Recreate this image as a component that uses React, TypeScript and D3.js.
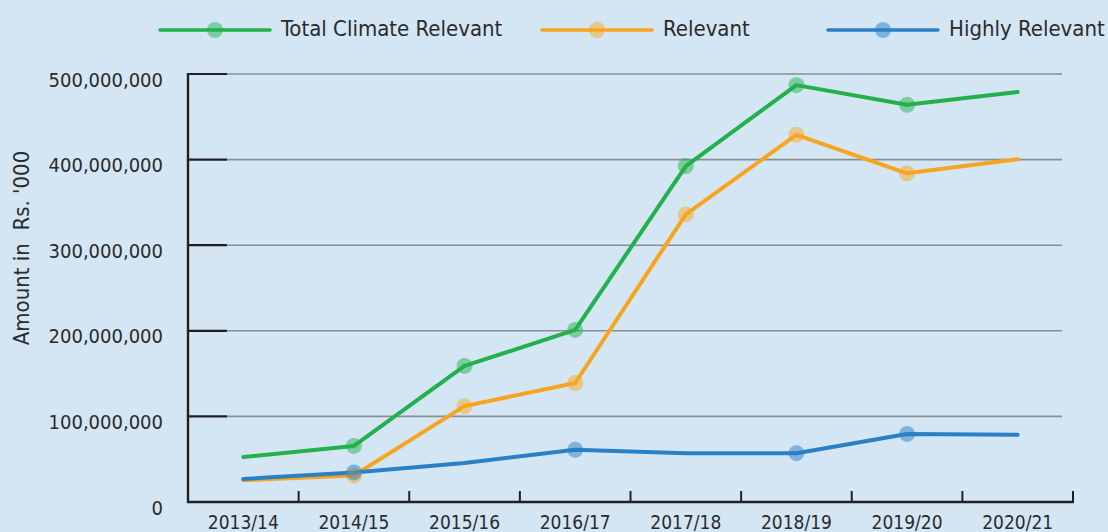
import React from "react";
import * as d3 from "d3";

const years = ["2013/14", "2014/15", "2015/16", "2016/17", "2017/18", "2018/19", "2019/20", "2020/21"];
const totalClimate = [52.5e6, 65.5e6, 159e6, 201e6, 392.5e6, 487e6, 464e6, 479e6];
const relevant = [25.5e6, 31e6, 112e6, 139e6, 336e6, 429e6, 384e6, 400.5e6];
const highlyRelevant = [27e6, 34.5e6, 45.5e6, 61e6, 57e6, 57e6, 79.5e6, 78.5e6];
const totalMarkers = [false, true, true, true, true, true, true, false];
const relevantMarkers = [false, true, true, true, true, true, true, false];
const highlyMarkers = [false, true, false, true, false, true, true, false];
const yTicks = [0, 100e6, 200e6, 300e6, 400e6, 500e6];
const seriesNames = ["Total Climate Relevant", "Relevant", "Highly Relevant"];
const seriesColors = ["#22b14c", "#f7a520", "#2a80c6"];

const W = 1108;
const H = 532;
const FONT = "'Liberation Sans Narrow', 'DejaVu Sans Condensed', Roboto, sans-serif";

export default function App() {
  const x0 = 188, x1 = 1073, yTop = 74, yBase = 502;
  const x = d3.scaleBand().domain(years).range([x0, x1]);
  const y = d3.scaleLinear().domain([0, 500e6]).range([yBase, yTop]);
  const cx = (yr: string) => (x(yr) as number) + x.bandwidth() / 2;
  const line = d3.line<number>().x((_, i) => cx(years[i])).y((v) => y(v));
  const series = [
    { vals: totalClimate, marks: totalMarkers },
    { vals: relevant, marks: relevantMarkers },
    { vals: highlyRelevant, marks: highlyMarkers },
  ];
  const legendX = [160, 542, 828];
  const boundaries = years.map((yr) => (x(yr) as number) + x.bandwidth());

  return (
    <svg width={W} height={H} style={{ position: "absolute", left: 0, top: 0, background: "#d4e6f3" }} fontFamily={FONT}>
      <rect x={0} y={0} width={W} height={H} fill="#d4e6f3" />
      {yTicks.filter((t) => t > 0).map((t) => (
        <line key={"g" + t} x1={227} x2={1062} y1={y(t)} y2={y(t)} stroke="#8a8e92" strokeWidth={1.6} />
      ))}
      {yTicks.filter((t) => t > 0).map((t) => (
        <line key={"t" + t} x1={x0} x2={227} y1={y(t)} y2={y(t)} stroke="#231f20" strokeWidth={2.2} />
      ))}
      <line x1={x0} x2={x0} y1={yTop - 1} y2={yBase + 1} stroke="#231f20" strokeWidth={2.4} />
      <line x1={x0 - 1} x2={x1 + 1} y1={yBase} y2={yBase} stroke="#231f20" strokeWidth={2.4} />
      {boundaries.map((b, i) => (
        <line key={"xt" + i} x1={b} x2={b} y1={yBase} y2={yBase - 11} stroke="#231f20" strokeWidth={2} />
      ))}
      {yTicks.map((t) => (
        <text key={"yl" + t} x={163} y={y(t) + 7} textAnchor="end" dominantBaseline="middle" fontSize={20} fill="#2b2b2b">
          {d3.format(",")(t)}
        </text>
      ))}
      {years.map((yr) => (
        <text key={"xl" + yr} x={cx(yr)} y={529} textAnchor="middle" fontSize={19} fill="#2b2b2b">
          {yr}
        </text>
      ))}
      <text
        transform={`translate(29, 248) rotate(-90)`}
        textAnchor="middle"
        fontSize={22}
        fill="#2b2b2b"
        style={{ whiteSpace: "pre" }}
        xmlSpace="preserve"
      >
        {"Amount in  Rs. '000"}
      </text>
      {series.map((s, i) => (
        <path key={"l" + i} d={line(s.vals) || ""} fill="none" stroke={seriesColors[i]} strokeWidth={4} strokeLinejoin="round" strokeLinecap="round" />
      ))}
      {series.map((s, i) =>
        s.vals.map((v, j) =>
          s.marks[j] ? (
            <circle key={"m" + i + "-" + j} cx={cx(years[j])} cy={y(v)} r={8} fill={seriesColors[i]} fillOpacity={0.5} />
          ) : null
        )
      )}
      {seriesNames.map((n, i) => (
        <g key={"lg" + i}>
          <line x1={legendX[i]} x2={legendX[i] + 110} y1={30} y2={30} stroke={seriesColors[i]} strokeWidth={3.5} strokeLinecap="round" />
          <circle cx={legendX[i] + 55} cy={30} r={8} fill={seriesColors[i]} fillOpacity={0.5} />
          <text x={legendX[i] + 121} y={30} dominantBaseline="middle" fontSize={22} fill="#2b2b2b">
            {n}
          </text>
        </g>
      ))}
    </svg>
  );
}
